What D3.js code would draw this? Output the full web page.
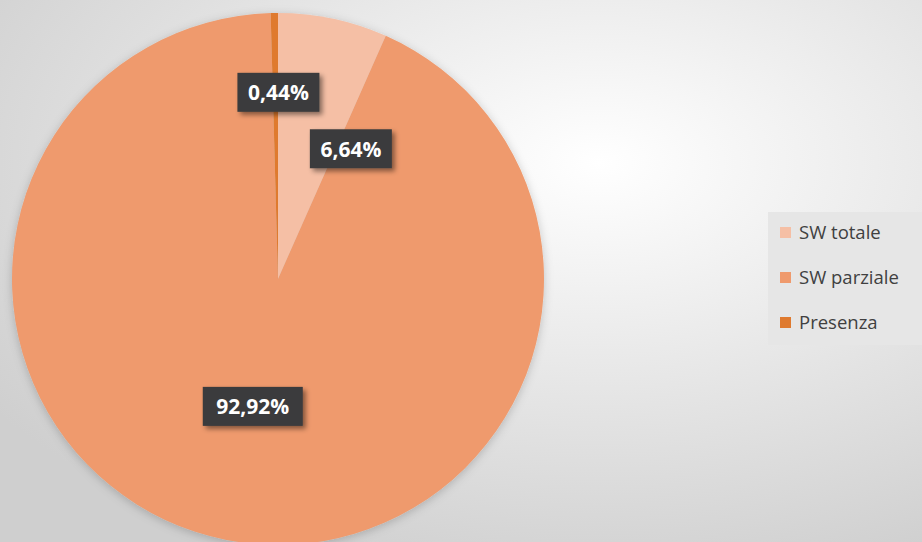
<!DOCTYPE html>
<html>
  <head>
    <script src="https://d3js.org/d3.v7.min.js"></script>
    <style>
      body { margin: 0; }
    </style>
  </head>
  <body>
<script type="text/javascript">
var width = 922;
var height = 542;

var categories = ['SW totale', 'SW parziale', 'Presenza'];
var values = [6.64, 92.92, 0.44];
var labels = ['6,64%', '92,92%', '0,44%'];
var colors = ['#f5bfa5', '#ef9a6d', '#df7a2f'];

var svg = d3.select('body').append('svg')
    .attr('width', width)
    .attr('height', height);

var defs = svg.append('defs');
var bg = defs.append('radialGradient')
    .attr('id', 'bg')
    .attr('cx', '65%').attr('cy', '30%').attr('r', '80%');
bg.append('stop').attr('offset', '0%').attr('stop-color', '#ffffff');
bg.append('stop').attr('offset', '100%').attr('stop-color', '#cfcfcf');

var shadow = defs.append('filter').attr('id', 'shadow')
    .attr('x', '-20%').attr('y', '-20%').attr('width', '150%').attr('height', '150%');
shadow.append('feDropShadow')
    .attr('dx', 3).attr('dy', 3).attr('stdDeviation', 2.5)
    .attr('flood-color', '#000').attr('flood-opacity', 0.45);

var pieShadow = defs.append('filter').attr('id', 'pieShadow')
    .attr('x', '-10%').attr('y', '-10%').attr('width', '120%').attr('height', '120%');
pieShadow.append('feDropShadow')
    .attr('dx', 0).attr('dy', 2).attr('stdDeviation', 5)
    .attr('flood-color', '#000').attr('flood-opacity', 0.2);

svg.append('rect')
    .attr('width', width).attr('height', height)
    .attr('fill', 'url(#bg)');

var cx = 278, cy = 279, radius = 266;

var pie = d3.pie().sort(null).value(function(d) { return d; });
var arcs = pie(values);
var arc = d3.arc().innerRadius(0).outerRadius(radius);

var g = svg.append('g')
    .attr('transform', 'translate(' + cx + ',' + cy + ')');

g.append('g')
    .attr('filter', 'url(#pieShadow)')
    .selectAll('path')
    .data(arcs)
    .enter()
    .append('path')
    .attr('d', arc)
    .attr('fill', function(d, i) { return colors[i]; });

// label radius (fraction of radius) and best-fit nudges, like excel does
var labelR = [0.56, 0.49, 0.70];
var nudge = [[42, 16], [0, 0], [3, 0]];

var lbl = g.selectAll('g.lbl')
    .data(arcs)
    .enter()
    .append('g')
    .attr('class', 'lbl')
    .attr('transform', function(d, i) {
      var a = (d.startAngle + d.endAngle) / 2;
      var r = radius * labelR[i];
      var x = Math.sin(a) * r + nudge[i][0];
      var y = -Math.cos(a) * r + nudge[i][1];
      return 'translate(' + x + ',' + y + ')';
    });

lbl.append('rect')
    .attr('x', function(d, i) { return i === 1 ? -50 : -41; })
    .attr('y', -20)
    .attr('width', function(d, i) { return i === 1 ? 100 : 82; })
    .attr('height', 39)
    .attr('fill', '#3a3b3c')
    .attr('filter', 'url(#shadow)');

lbl.append('text')
    .attr('text-anchor', 'middle')
    .attr('dy', '0.36em')
    .attr('fill', '#ffffff')
    .attr('font-family', 'Open Sans, sans-serif')
    .attr('font-weight', 'bold')
    .attr('font-size', '21px')
    .text(function(d, i) { return labels[i]; });

// legend
var legend = svg.append('g').attr('transform', 'translate(768,212)');
legend.append('rect')
    .attr('width', 154).attr('height', 133)
    .attr('fill', '#e6e6e6');

var item = legend.selectAll('g.item')
    .data(categories)
    .enter()
    .append('g')
    .attr('class', 'item')
    .attr('transform', function(d, i) { return 'translate(0,' + (21 + i * 45) + ')'; });

item.append('rect')
    .attr('x', 12).attr('y', -6)
    .attr('width', 11).attr('height', 11)
    .attr('fill', function(d, i) { return colors[i]; });

item.append('text')
    .attr('x', 31)
    .attr('dy', '0.35em')
    .attr('fill', '#404040')
    .attr('font-family', 'Open Sans, sans-serif')
    .attr('font-size', '18.5px')
    .text(function(d) { return d; });
</script>
  </body>
</html>
